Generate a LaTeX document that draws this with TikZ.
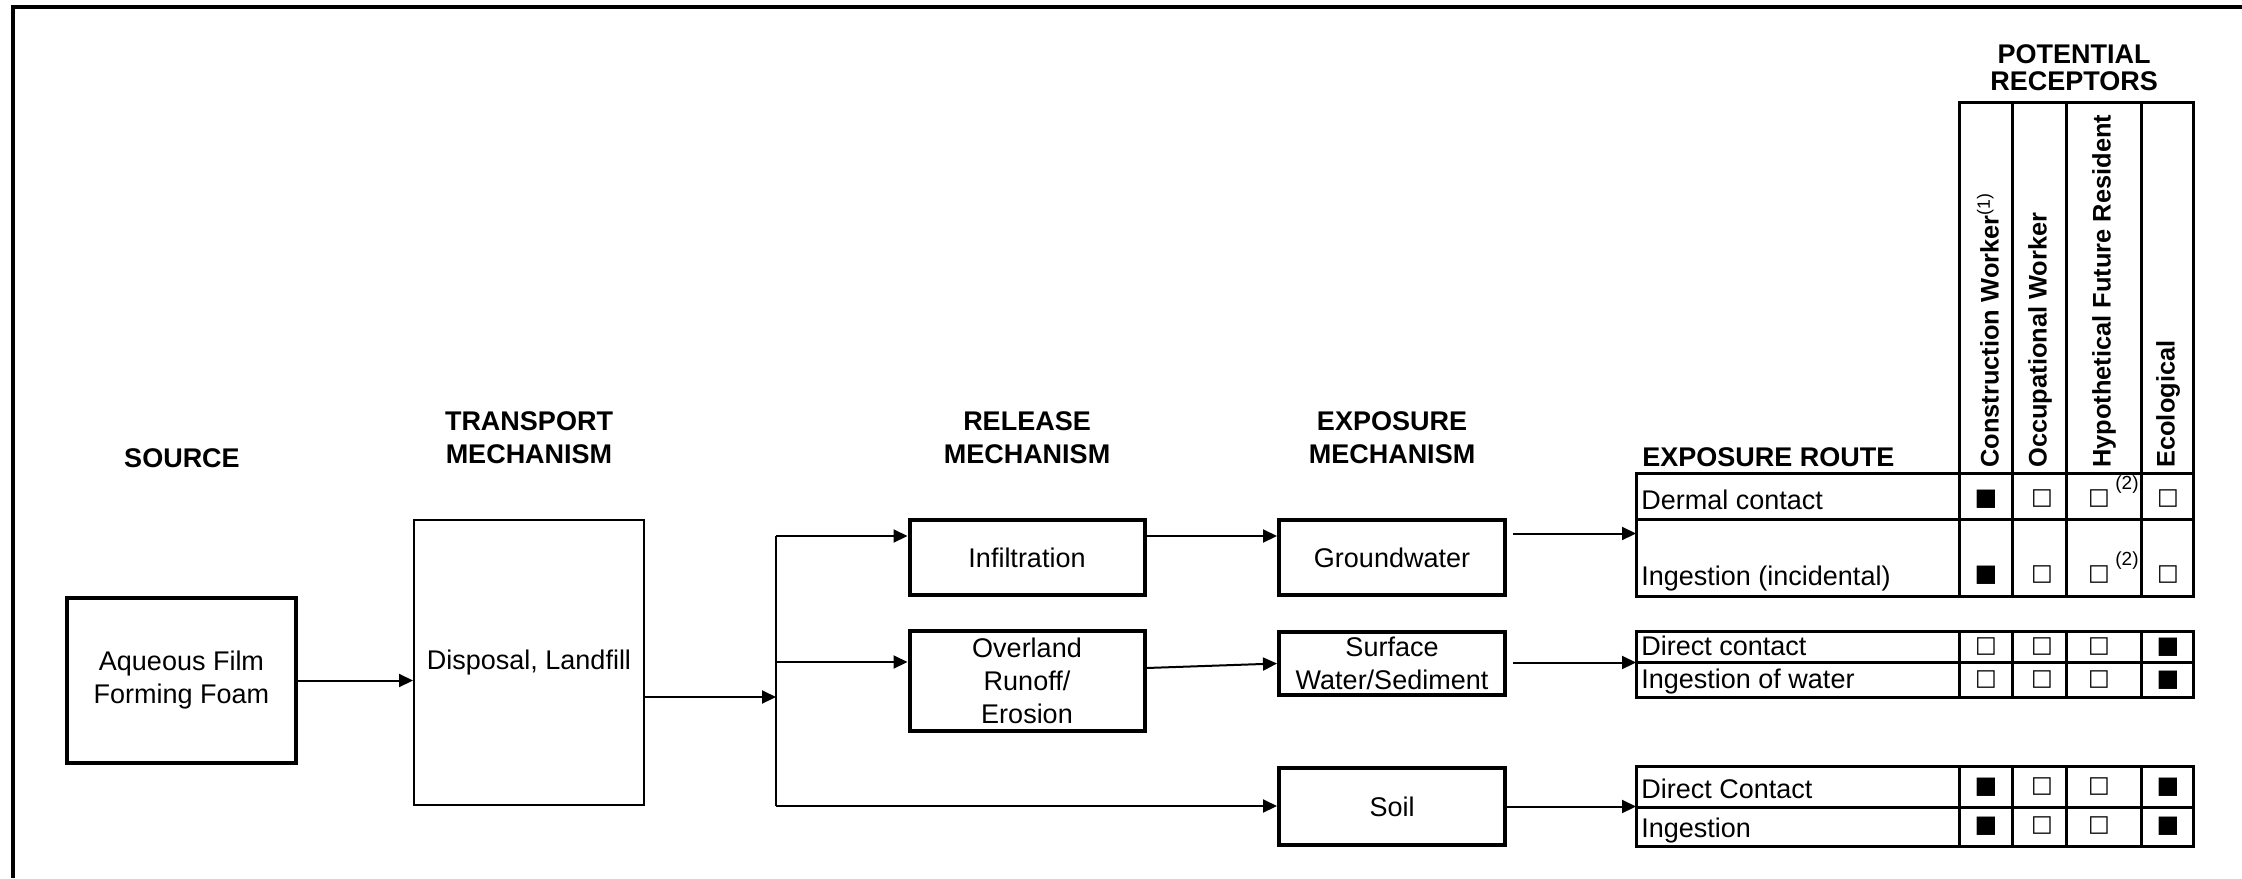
\documentclass[tikz,border=0pt]{standalone}
\usepackage{fontspec}
\setmainfont{Liberation Sans}
\newfontfamily\symfont{DejaVu Sans}
\usetikzlibrary{arrows.meta,calc}
\newcommand{\basefont}{\fontsize{13.5}{16.5}\selectfont}
\newcommand{\recyes}{{\symfont\fontsize{12}{12}\selectfont ■}}
\newcommand{\recno}{{\symfont\fontsize{11.5}{11.5}\selectfont □}}

\tikzset{
  box/.style={draw,line width=2pt,inner sep=0pt,align=center,font=\basefont},
  thinbox/.style={box,line width=1pt},
  ttl/.style={align=center,inner sep=0pt,font=\basefont\bfseries},
  hdr/.style={rotate=90,anchor=west,inner sep=0pt,font=\fontsize{12.7}{15}\selectfont\bfseries},
  rowtxt/.style={anchor=base west,inner sep=0pt,font=\basefont},
  mk/.style={inner sep=0pt},
  note/.style={inner sep=0pt,font=\fontsize{9.5}{9.5}\selectfont},
  tbl/.style={line width=1.5pt,line cap=rect},
  ln/.style={line width=1pt},
  arr/.style={line width=1pt,-{Triangle[length=7pt,width=6.5pt]}}
}

\begin{document}
\begin{tikzpicture}[x=0.5pt,y=-0.5pt]
  \def\tl{1636}
  \def\ca{1959}
  \def\cb{2012}
  \def\cc{2066}
  \def\cd{2141}
  \def\tr{2193}
  \useasboundingbox (0,0) rectangle (2242,878);
  %frame
  \draw[line width=2.4pt] (13,878) -- (13,7) -- (2242,7);

  %column titles
  \node[ttl] (tsrc) at (182,458) {SOURCE};
  \node[ttl] (ttra) at (529,438) {TRANSPORT\\MECHANISM};
  \node[ttl] (trel) at (1027,438) {RELEASE\\MECHANISM};
  \node[ttl] (texp) at (1392,438) {EXPOSURE\\MECHANISM};
  \node[ttl,anchor=west] (troute) at (1642,457) {EXPOSURE ROUTE};
  \node[ttl,font=\fontsize{13.5}{13.5}\selectfont\bfseries] (trec) at (2074,68) {POTENTIAL\\RECEPTORS};

  %boxes
  \node[box,minimum width=114.5pt,minimum height=82.5pt] (src) at (181.5,680.5) {Aqueous Film\\Forming Foam};
  \node[thinbox,minimum width=115pt,minimum height=142.5pt] (disp) at (529,662.5) {Disposal, Landfill};
  \node[box,minimum width=117.5pt,minimum height=37.5pt] (infil) at (1027,557.5) {Infiltration};
  \node[box,minimum width=117.5pt,minimum height=50pt] (over) at (1027,681) {Overland\\Runoff/\\Erosion};
  \node[box,minimum width=113pt,minimum height=37.5pt] (gw) at (1392,557.5) {Groundwater};
  \node[box,minimum width=113pt,minimum height=31.5pt] (surf) at (1392,663.5) {Surface\\Water/Sediment};
  \node[box,minimum width=113pt,minimum height=38.5pt] (soil) at (1392,806.5) {Soil};

  %receptor table
  \coordinate (tabA) at (\tl,473);
  \coordinate (tabB) at (\tl,631);
  \coordinate (tabC) at (\tl,766);
  \draw[tbl] (\ca,473) -- (\ca,102) -- (\tr,102) -- (\tr,473);
  \foreach \x in {\cb,\cc,\cd}
    \draw[tbl] (\x,102) -- (\x,473);
  \foreach \ya/\ym/\yb in {473/519/596, 631/662/697, 766/807/846}{
    \draw[tbl] (\tl,\ya) rectangle (\tr,\yb);
    \draw[tbl] (\tl,\ym) -- (\tr,\ym);
    \foreach \x in {\ca,\cb,\cc,\cd}
      \draw[tbl] (\x,\ya) -- (\x,\yb);
  }
  \node[hdr] (hcw) at (1988,468) {Construction Worker\textsuperscript{\mdseries(1)}};
  \node[hdr] (how) at (2040,468) {Occupational Worker};
  \node[hdr] (hfr) at (2104,468) {Hypothetical Future Resident};
  \node[hdr] (hec) at (2168,468) {Ecological};

  %exposure routes
  \node[rowtxt] (derm) at (1641,509) {Dermal contact};
  \node[rowtxt] (ingi) at (1641,585) {Ingestion (incidental)};
  \node[rowtxt] (dirc) at (1641,655) {Direct contact};
  \node[rowtxt] (ingw) at (1641,688) {Ingestion of water};
  \node[rowtxt] (dirs) at (1641,798) {Direct Contact};
  \node[rowtxt] (ings) at (1641,837) {Ingestion};
  \foreach \n/\yy/\ma/\mb/\mc/\md in {
      derm/499/\recyes/\recno/\recno/\recno,
      ingi/575/\recyes/\recno/\recno/\recno,
      dirc/647/\recno/\recno/\recno/\recyes,
      ingw/680/\recno/\recno/\recno/\recyes,
      dirs/787/\recyes/\recno/\recno/\recyes,
      ings/826/\recyes/\recno/\recno/\recyes}{
    \node[mk] (\n-cw) at (1986,\yy) {\ma};
    \node[mk] (\n-ow) at (2042,\yy) {\mb};
    \node[mk] (\n-fr) at (2099,\yy) {\mc};
    \node[mk] (\n-ec) at (2168,\yy) {\md};
  }
  \node[note] (n2a) at (2127,485) {(2)};
  \node[note] (n2b) at (2127,561) {(2)};

  %connectors
  \coordinate (br) at (776,697);
  \coordinate (brtop) at (776,536);
  \coordinate (brmid) at (776,662);
  \coordinate (brbot) at (776,806);
  \draw[arr] (src.east) -- (src.east -| disp.west);
  \draw[arr] (disp.east |- br) -- (br);
  \draw[ln] (brtop) -- (brbot);
  \draw[arr] (brtop) -- (brtop -| infil.west);
  \draw[arr] (brmid) -- (brmid -| over.west);
  \draw[arr] (brbot) -- (brbot -| soil.west);
  \draw[arr] (infil.east |- brtop) -- (gw.west |- brtop);
  \draw[arr] ($(over.east)+(0,-13)$) -- (surf.west);
  \coordinate (gwo) at ($(gw.east)+(6,-24)$);
  \draw[arr] (gwo) -- (gwo -| tabA);
  \coordinate (surfo) at ($(surf.east)+(6,-1)$);
  \draw[arr] (surfo) -- (surfo -| tabB);
  \draw[arr] (soil.east) -- (soil.east -| tabC);
\end{tikzpicture}
\end{document}
